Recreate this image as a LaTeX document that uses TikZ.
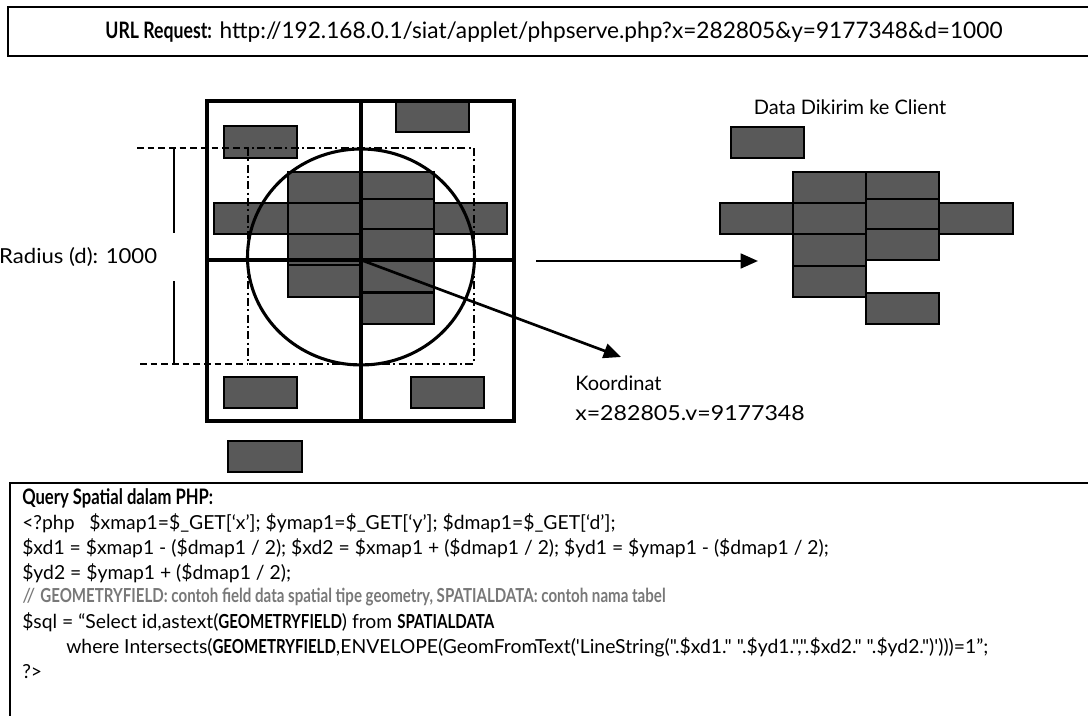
\documentclass[tikz,border=0pt]{standalone}
\usepackage{fontspec}
\usetikzlibrary{arrows.meta}
\newfontfamily\tw{Lato}
\newfontfamily\twc{Lato}[FakeStretch=0.78]
\newfontfamily\twx{Lato}[FakeStretch=1.12]
\newfontfamily\twr{Lato}[FakeStretch=1.07]
\definecolor{blkfill}{RGB}{89,89,89}
\definecolor{cmtgray}{RGB}{120,120,120}
\newcommand\gblock[4]{\draw[blockr] (#1,#2) rectangle (#3,#4);}
\begin{document}
\begin{tikzpicture}[x=0.75pt,y=-0.75pt,
  gridline/.style={line width=2.6pt},
  blockr/.style={draw=black, fill=blkfill, line width=0.9pt},
  frame/.style={draw=black, line width=1.5pt},
  arr/.style={line width=2pt, -{Triangle[length=13pt,width=11pt]}},
  lbl/.style={font=\tw\fontsize{15}{18}\selectfont, inner sep=0pt},
  code/.style={font=\tw\fontsize{14.5}{17}\selectfont, anchor=west, inner sep=0pt}]
\useasboundingbox (0,0) rectangle (1088,716);

% URL box
\draw[frame] (8,7) rectangle (1100,56);
\node[lbl, font=\tw\fontsize{17}{20}\selectfont] (url) at (554,32) {{\twc\bfseries URL Request:} http://192.168.0.1/siat/applet/phpserve.php?x=282805\&y=9177348\&d=1000};

% blocks in the map
\gblock{224}{126}{297}{158}
\gblock{396}{101}{469}{132}
\gblock{214}{203}{288}{234}
\gblock{434}{203}{507}{234}
\gblock{288}{172}{361}{203}
\gblock{288}{203}{361}{234}
\gblock{288}{234}{361}{265}
\gblock{288}{265}{361}{297}
\gblock{361}{172}{434}{199}
\gblock{361}{199}{434}{229}
\gblock{361}{229}{434}{260}
\gblock{361}{260}{434}{292}
\gblock{361}{293}{434}{324}
\gblock{224}{377}{297}{408}
\gblock{411}{377}{484}{408}
\gblock{228}{441}{302}{472}

% grid
\draw[gridline] (207,101) rectangle (514,421);
\draw[gridline] (361,101) -- (361,421);
\draw[gridline] (207,260) -- (514,260);

% circle and envelope
\draw[line width=2.3pt] (361,257) ellipse [x radius=113.5, y radius=108];
\draw[line width=1.5pt, dash pattern=on 6pt off 2.5pt on 1.5pt off 2.5pt] (248,148) rectangle (474,364);
\draw[line width=1.5pt, dash pattern=on 5pt off 3pt] (137,148) -- (248,148);
\draw[line width=1.5pt, dash pattern=on 5pt off 3pt] (140,364) -- (248,364);

% radius dimension
\draw[line width=0.9pt] (174,148) -- (174,364);
\node[lbl, font=\twr\fontsize{15.5}{18}\selectfont, fill=white, anchor=east, minimum height=36pt, inner xsep=14pt] (rad) at (176,257) {Radius (d): 1000};

% client data
\node[font=\tw\fontsize{15}{18}\selectfont, inner sep=0pt] (dk) at (850,107) {Data Dikirim ke Client};
\gblock{731}{127}{804}{158}
\gblock{720}{203}{793}{234}
\gblock{939}{203}{1013}{234}
\gblock{793}{172}{866}{203}
\gblock{793}{203}{866}{234}
\gblock{793}{234}{866}{266}
\gblock{793}{266}{866}{297}
\gblock{866}{172}{939}{199}
\gblock{866}{199}{939}{229}
\gblock{866}{229}{939}{260}
\gblock{866}{293}{939}{324}

% arrows
\coordinate (c) at (361,260);
\coordinate (k) at (621,357);
\coordinate (a1) at (536,261);
\coordinate (a2) at (758,261);
\draw[arr] (a1) -- (a2);
\draw[arr] (c) -- (k);
\node[lbl, anchor=west] (ko1) at (575,383) {Koordinat};
\node[lbl, font=\twx\fontsize{15.5}{18}\selectfont, anchor=west] (ko2) at (575,413) {x=282805.v=9177348};

% query box
\draw[frame] (10,483) rectangle (1100,730);
\node[code, font=\twc\bfseries\fontsize{16}{19}\selectfont] (q0) at (22,498) {Query Spatial dalam PHP:};
\node[code] (q1) at (22,523) {<?php\ \ \ \$xmap1=\$\_GET[‘x’]; \$ymap1=\$\_GET[‘y’]; \$dmap1=\$\_GET[‘d’];};
\node[code] (q2) at (22,548) {\$xd1 = \$xmap1 - (\$dmap1 / 2); \$xd2 = \$xmap1 + (\$dmap1 / 2); \$yd1 = \$ymap1 - (\$dmap1 / 2);};
\node[code] (q3) at (22,573) {\$yd2 = \$ymap1 + (\$dmap1 / 2);};
\node[code, text=cmtgray] (q4) at (22,597) {// {\twc\bfseries GEOMETRYFIELD: contoh field data spatial tipe geometry, SPATIALDATA: contoh nama tabel}};
\node[code] (q5) at (22,622) {\$sql = “Select id,astext({\twc\bfseries GEOMETRYFIELD}) from {\twc\bfseries SPATIALDATA}};
\node[code] (q6) at (66,647) {where Intersects({\twc\bfseries GEOMETRYFIELD},ENVELOPE(GeomFromText('LineString(".\$xd1." ".\$yd1.",".\$xd2." ".\$yd2.")')))=1”;};
\node[code] (q7) at (22,672) {?>};
\end{tikzpicture}
\end{document}
